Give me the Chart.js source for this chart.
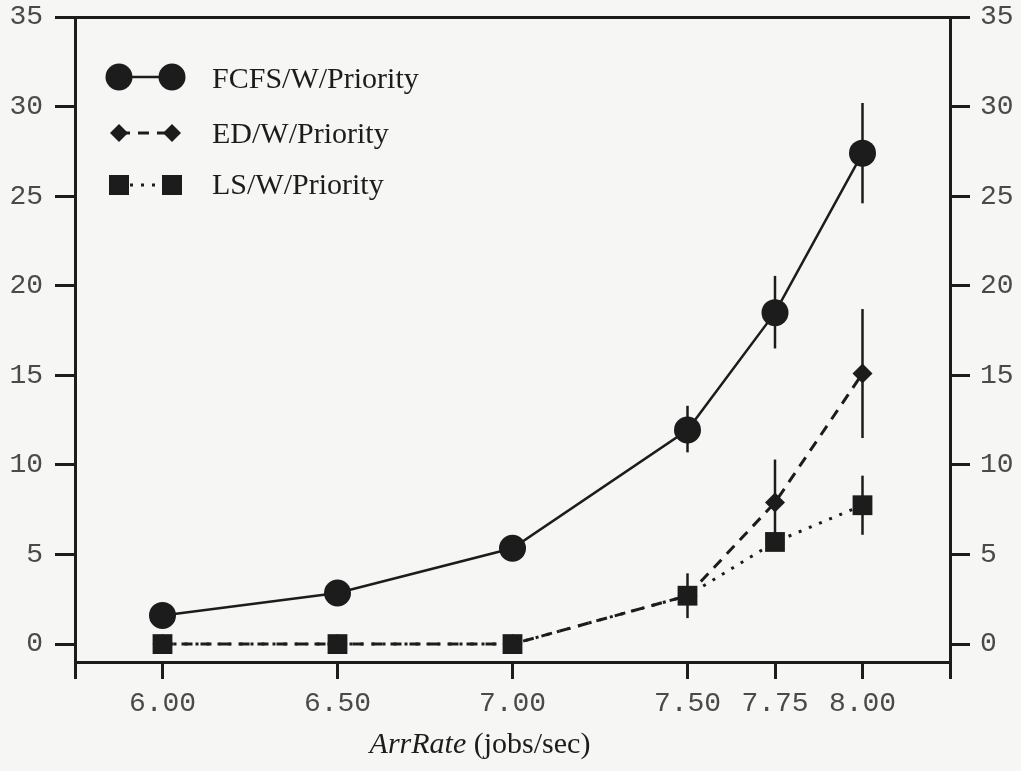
<!DOCTYPE html>
<html>
<head>
<meta charset="utf-8">
<script src="https://cdn.jsdelivr.net/npm/chart.js@4.4.1/dist/chart.umd.min.js"></script>
<style>
  html, body { margin: 0; padding: 0; background: #f6f6f4; }
  #wrap { width: 1021px; height: 771px; }
</style>
</head>
<body>
<div id="wrap"><canvas id="respChart" width="1021" height="771"></canvas></div>
<script>
// arrival rates (jobs/sec) and tick marks
const arrRates = [6.0, 6.5, 7.0, 7.5, 7.75, 8.0];
const xTicks = [6.0, 6.5, 7.0, 7.5, 7.75, 8.0];
const yTicks = [0, 5, 10, 15, 20, 25, 30, 35];

// FCFS with priority
const fcfs     = [1.6, 2.85, 5.35, 11.95, 18.5, 27.4];
const fcfsLow  = [null, null, null, 10.7, 16.5, 24.6];
const fcfsHigh = [null, null, null, 13.3, 20.55, 30.2];

// ED with priority
const ed     = [0, 0, 0, 2.7, 7.9, 15.1];
const edLow  = [null, null, null, null, 5.6, 11.5];
const edHigh = [null, null, null, null, 10.3, 18.7];

// LS with priority
const ls     = [0, 0, 0, 2.7, 5.7, 7.75];
const lsLow  = [null, null, null, 1.45, null, 6.1];
const lsHigh = [null, null, null, 3.95, null, 9.4];

const INK = '#1c1c1c';
const TICK_INK = '#4a4a4a';

function toPoints(ys) {
    return arrRates.map((x, i) => ({ x: x, y: ys[i] }));
}

// vertical error bars, drawn under the markers
const errorBars = {
    id: 'errorBars',
    beforeDatasetsDraw(chart) {
        const { ctx, scales } = chart;
        const ranges = [[fcfsLow, fcfsHigh], [edLow, edHigh], [lsLow, lsHigh]];
        ctx.save();
        ctx.strokeStyle = INK;
        ctx.lineWidth = 2.5;
        ranges.forEach(([lo, hi]) => {
            arrRates.forEach((x, i) => {
                if (lo[i] == null || hi[i] == null) return;
                const px = scales.x.getPixelForValue(x);
                ctx.beginPath();
                ctx.moveTo(px, scales.y.getPixelForValue(lo[i]));
                ctx.lineTo(px, scales.y.getPixelForValue(hi[i]));
                ctx.stroke();
            });
        });
        ctx.restore();
    }
};

// legend in the upper left corner: marker - line - marker, then the name
const legendBox = {
    id: 'legendBox',
    afterDraw(chart) {
        const ctx = chart.ctx;
        const rows = [
            { name: 'FCFS/W/Priority', y: 77, base: 88, style: 'circle', dash: [], width: 2.5 },
            { name: 'ED/W/Priority', y: 133, base: 143, style: 'diamond', dash: [11, 8], width: 3 },
            { name: 'LS/W/Priority', y: 185, base: 194, style: 'square', dash: [3, 8], width: 3 }
        ];
        const x1 = 119, x2 = 172;
        ctx.save();
        rows.forEach(r => {
            ctx.strokeStyle = INK;
            ctx.lineWidth = r.width;
            ctx.setLineDash(r.dash);
            ctx.beginPath();
            ctx.moveTo(x1, r.y);
            ctx.lineTo(x2, r.y);
            ctx.stroke();
            ctx.setLineDash([]);
            ctx.fillStyle = INK;
            [x1, x2].forEach(cx => {
                ctx.beginPath();
                if (r.style === 'circle') {
                    ctx.arc(cx, r.y, 13.5, 0, Math.PI * 2);
                } else if (r.style === 'diamond') {
                    ctx.moveTo(cx - 9, r.y);
                    ctx.lineTo(cx, r.y - 9);
                    ctx.lineTo(cx + 9, r.y);
                    ctx.lineTo(cx, r.y + 9);
                    ctx.closePath();
                } else {
                    ctx.rect(cx - 10, r.y - 10, 20, 20);
                }
                ctx.fill();
            });
            ctx.font = '30px "Liberation Serif", "Times New Roman", serif';
            ctx.textAlign = 'left';
            ctx.textBaseline = 'alphabetic';
            ctx.fillText(r.name, 212, r.base);
        });
        ctx.restore();
    }
};

// x axis title, first word in italics
const axisTitle = {
    id: 'axisTitle',
    afterDraw(chart) {
        const ctx = chart.ctx;
        const italic = 'italic 30px "Liberation Serif", "Times New Roman", serif';
        const upright = '30px "Liberation Serif", "Times New Roman", serif';
        ctx.save();
        ctx.fillStyle = INK;
        ctx.textBaseline = 'alphabetic';
        ctx.textAlign = 'left';
        ctx.font = italic;
        const w1 = ctx.measureText('ArrRate').width;
        ctx.font = upright;
        const w2 = ctx.measureText(' (jobs/sec)').width;
        const left = 480 - (w1 + w2) / 2;
        ctx.font = italic;
        ctx.fillText('ArrRate', left, 753);
        ctx.font = upright;
        ctx.fillText(' (jobs/sec)', left + w1, 753);
        ctx.restore();
    }
};

const paper = {
    id: 'paper',
    beforeDraw(chart) {
        const ctx = chart.ctx;
        ctx.save();
        ctx.fillStyle = '#f6f6f4';
        ctx.fillRect(0, 0, chart.width, chart.height);
        ctx.restore();
    }
};

const tickFont = { family: '"Liberation Mono", "Courier New", monospace', size: 28 };

function yAxis(position, drawOnArea, pad, width) {
    return {
        type: 'linear',
        position: position,
        min: -1,
        max: 35,
        afterBuildTicks: scale => { scale.ticks = yTicks.map(v => ({ value: v })); },
        afterFit: scale => {
            scale.width = width;
            scale.paddingTop = 0;
            scale.paddingBottom = 0;
        },
        border: { display: true, color: INK, width: 3 },
        grid: {
            drawOnChartArea: drawOnArea,
            drawTicks: true,
            tickLength: 20,
            lineWidth: 3,
            color: c => (c.tick && c.tick.value === 35) ? INK : 'rgba(0,0,0,0)',
            tickColor: INK
        },
        ticks: {
            color: TICK_INK,
            font: tickFont,
            padding: pad,
            callback: v => String(v)
        }
    };
}

new Chart(document.getElementById('respChart'), {
    type: 'line',
    data: {
        datasets: [
            {
                label: 'FCFS/W/Priority',
                data: toPoints(fcfs),
                borderColor: INK,
                backgroundColor: INK,
                borderWidth: 2.5,
                pointStyle: 'circle',
                pointRadius: 13.5,
                pointBorderWidth: 0,
                order: 2
            },
            {
                label: 'ED/W/Priority',
                data: toPoints(ed),
                borderColor: INK,
                backgroundColor: INK,
                borderWidth: 3,
                borderDash: [11, 8],
                pointStyle: 'rectRot',
                pointRadius: 10,
                pointBorderWidth: 0,
                order: 1
            },
            {
                label: 'LS/W/Priority',
                data: toPoints(ls),
                borderColor: INK,
                backgroundColor: INK,
                borderWidth: 3,
                borderDash: [3, 8],
                pointStyle: 'rect',
                pointRadius: 14,
                pointBorderWidth: 0,
                order: 0
            }
        ]
    },
    options: {
        responsive: false,
        animation: false,
        layout: { padding: { top: 17, left: 0, right: 0, bottom: 0 } },
        plugins: {
            legend: { display: false },
            tooltip: { enabled: false }
        },
        scales: {
            x: {
                type: 'linear',
                min: 5.75,
                max: 8.25,
                afterBuildTicks: scale => {
                    scale.ticks = [5.75, ...xTicks, 8.25].map(v => ({ value: v }));
                },
                afterFit: scale => {
                    scale.height = 109;
                    scale.paddingLeft = 0;
                    scale.paddingRight = 0;
                },
                border: { display: true, color: INK, width: 3 },
                grid: {
                    drawOnChartArea: false,
                    tickLength: 17,
                    lineWidth: 3,
                    tickColor: INK
                },
                ticks: {
                    color: TICK_INK,
                    font: tickFont,
                    padding: 8,
                    maxRotation: 0,
                    autoSkip: false,
                    callback: v => xTicks.includes(v) ? v.toFixed(2) : ''
                }
            },
            y: yAxis('left', true, 12, 75),
            y2: yAxis('right', false, 10, 71)
        }
    },
    plugins: [paper, errorBars, legendBox, axisTitle]
});
</script>
</body>
</html>
